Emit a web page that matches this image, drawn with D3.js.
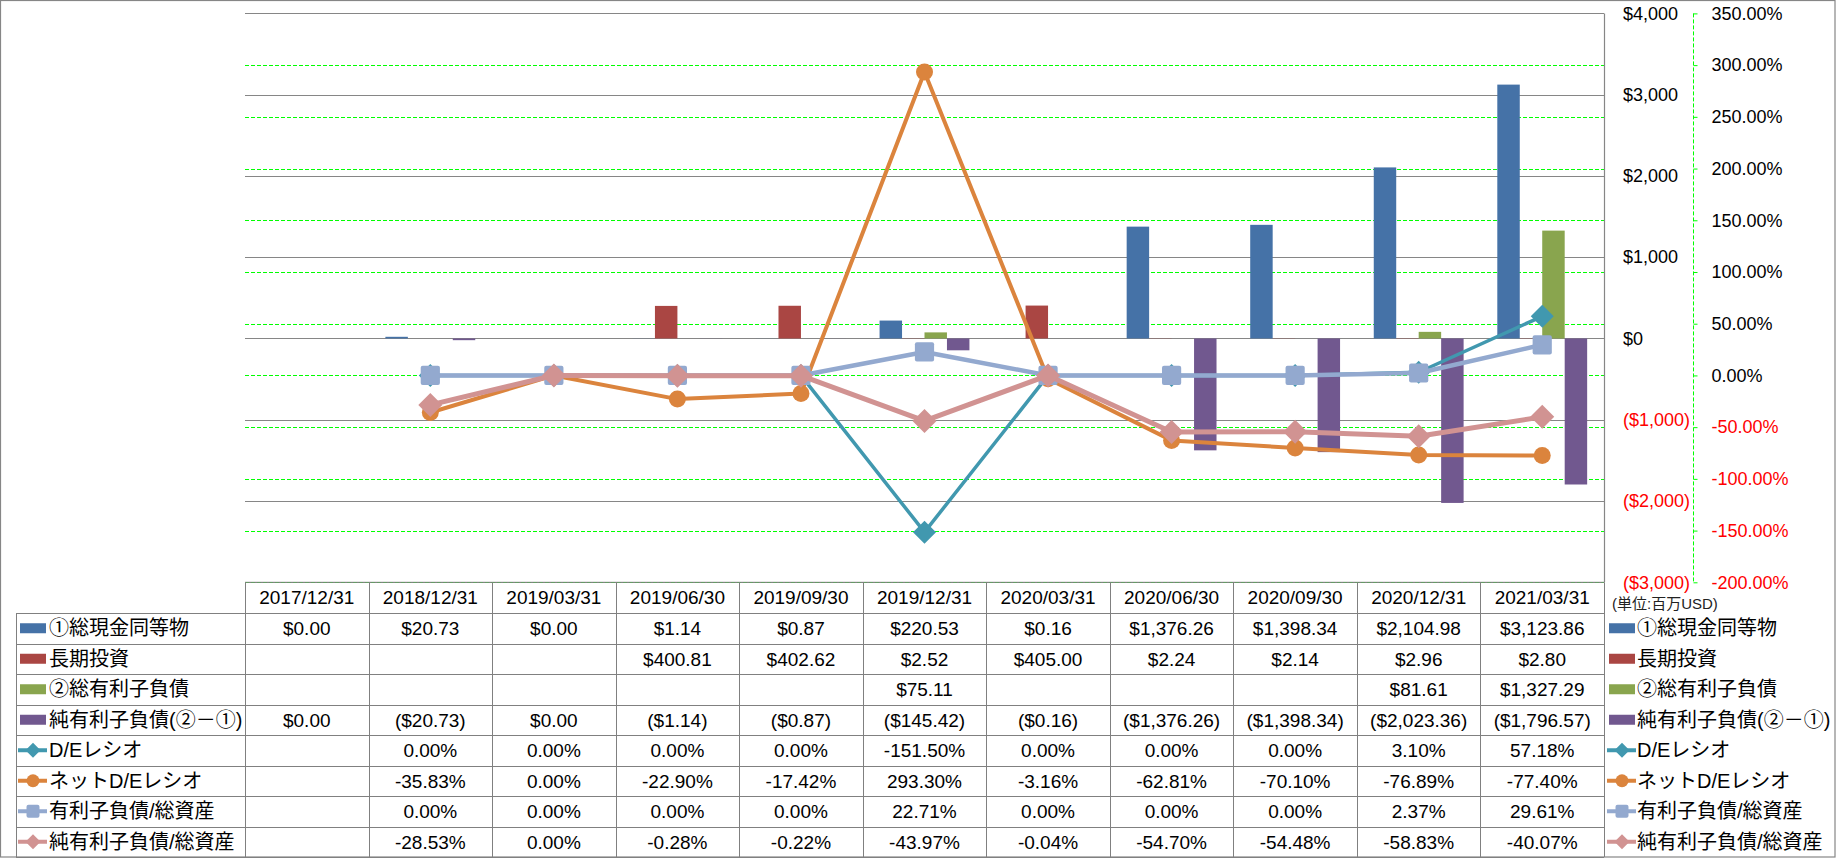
<!DOCTYPE html>
<html><head><meta charset="utf-8">
<script src="https://cdn.jsdelivr.net/npm/d3@7/dist/d3.min.js"></script>
<style>
body{margin:0;background:#fff}
text{font-family:"Liberation Sans","Noto Sans CJK JP",sans-serif}
</style>
</head><body>
<svg id="c" width="1836" height="858"></svg>
<script>
// ---------- data ----------
const categories = ["2017/12/31","2018/12/31","2019/03/31","2019/06/30","2019/09/30","2019/12/31","2020/03/31","2020/06/30","2020/09/30","2020/12/31","2021/03/31"];
const cash        = [0, 20.73, 0, 1.14, 0.87, 220.53, 0.16, 1376.26, 1398.34, 2104.98, 3123.86];
const ltInvest    = [null, null, null, 400.81, 402.62, 2.52, 405.00, 2.24, 2.14, 2.96, 2.80];
const totalDebt   = [null, null, null, null, null, 75.11, null, null, null, 81.61, 1327.29];
const netDebt     = [0, -20.73, 0, -1.14, -0.87, -145.42, -0.16, -1376.26, -1398.34, -2023.36, -1796.57];
const deRatio     = [null, 0, 0, 0, 0, -151.50, 0, 0, 0, 3.10, 57.18];
const netDeRatio  = [null, -35.83, 0, -22.90, -17.42, 293.30, -3.16, -62.81, -70.10, -76.89, -77.40];
const debtAssets  = [null, 0, 0, 0, 0, 22.71, 0, 0, 0, 2.37, 29.61];
const netDebtAssets = [null, -28.53, 0, -0.28, -0.22, -43.97, -0.04, -54.70, -54.48, -58.83, -40.07];

const seriesNames = ["①総現金同等物","長期投資","②総有利子負債","純有利子負債(②－①)","D/Eレシオ","ネットD/Eレシオ","有利子負債/総資産","純有利子負債/総資産"];
const leftTicks  = [-3000,-2000,-1000,0,1000,2000,3000,4000];
const rightTicks = [-200,-150,-100,-50,0,50,100,150,200,250,300,350];
const unitLabel = "(単位:百万USD)";

// ---------- styles ----------
const barSeries = [
  {name: seriesNames[0], values: cash,      color:"#4572A7"},
  {name: seriesNames[1], values: ltInvest,  color:"#AA4643"},
  {name: seriesNames[2], values: totalDebt, color:"#89A54E"},
  {name: seriesNames[3], values: netDebt,   color:"#71588F"}
];
const lineSeries = [
  {name: seriesNames[4], values: deRatio,       color:"#4198AF", marker:"diamond", w:3.5, ms:11.5},
  {name: seriesNames[5], values: netDeRatio,    color:"#DB843D", marker:"circle",  w:4,   ms:8.5},
  {name: seriesNames[6], values: debtAssets,    color:"#93A9CF", marker:"square",  w:4.5, ms:9.6},
  {name: seriesNames[7], values: netDebtAssets, color:"#D19392", marker:"diamond", w:5,   ms:12}
];

const svg = d3.select("#c");
const W = 1836, H = 858;
const plotL = 245, plotR = 1604, plotT = 13.4, plotB = 582.3;
const gridColor = "#868686";

const x = d3.scaleBand().domain(categories).range([plotL, plotR]).padding(0);
const xs = d3.scaleBand().domain(barSeries.map(s=>s.name)).range([0, x.bandwidth()]).paddingInner(0).paddingOuter(0.75);
const yL = d3.scaleLinear().domain([-3000, 4000]).range([plotB, plotT]);
const yR = d3.scaleLinear().domain([-200, 350]).range([plotB, plotT]);

// outer border
svg.append("rect").attr("x",0.5).attr("y",0.5).attr("width",W-1.5).attr("height",H-1.5)
  .attr("fill","none").attr("stroke",gridColor).attr("stroke-width",1.2);

// primary gridlines
svg.append("g").selectAll("line").data(leftTicks).join("line")
  .attr("x1",plotL).attr("x2",plotR)
  .attr("y1",d=>Math.round(yL(d))+0.5).attr("y2",d=>Math.round(yL(d))+0.5)
  .attr("stroke",gridColor).attr("stroke-width",1.2);

// secondary gridlines (green dashed)
svg.append("g").selectAll("line").data(rightTicks.filter(d=>d!==350)).join("line")
  .attr("x1",plotL).attr("x2",plotR)
  .attr("y1",d=>Math.round(yR(d))+0.5).attr("y2",d=>Math.round(yR(d))+0.5)
  .attr("stroke","#00FF00").attr("stroke-width",1).attr("stroke-dasharray","4,2");

// plot right border (primary axis line)
svg.append("line").attr("x1",plotR+0.5).attr("x2",plotR+0.5).attr("y1",plotT).attr("y2",plotB)
  .attr("stroke",gridColor).attr("stroke-width",1.2);

// bars
barSeries.forEach(s=>{
  svg.append("g").selectAll("rect").data(s.values.map((v,i)=>({v,c:categories[i]})).filter(d=>d.v!=null))
    .join("rect")
    .attr("x",d=>x(d.c)+xs(s.name))
    .attr("width",xs.bandwidth())
    .attr("y",d=>Math.min(yL(d.v),yL(0)))
    .attr("height",d=>Math.abs(yL(d.v)-yL(0)))
    .attr("fill",s.color);
});

// marker helper
function markerPath(type, s){
  if(type==="diamond") return `M0,${-s}L${s},0L0,${s}L${-s},0Z`;
  if(type==="square") return `M${-s},${-s+2}Q${-s},${-s} ${-s+2},${-s}L${s-2},${-s}Q${s},${-s} ${s},${-s+2}L${s},${s-2}Q${s},${s} ${s-2},${s}L${-s+2},${s}Q${-s},${s} ${-s},${s-2}Z`;
  return d3.arc()({innerRadius:0,outerRadius:s,startAngle:0,endAngle:2*Math.PI});
}

// lines
const cx = c => x(c) + x.bandwidth()/2;
lineSeries.forEach(s=>{
  const pts = s.values.map((v,i)=>({v,c:categories[i]}));
  const line = d3.line().defined(d=>d.v!=null).x(d=>cx(d.c)).y(d=>yR(d.v));
  const g = svg.append("g");
  g.append("path").attr("d",line(pts)).attr("fill","none").attr("stroke",s.color)
    .attr("stroke-width",s.w).attr("stroke-linejoin","round");
  g.selectAll("path.m").data(pts.filter(d=>d.v!=null)).join("path").attr("class","m")
    .attr("transform",d=>`translate(${cx(d.c)},${yR(d.v)})`)
    .attr("d",markerPath(s.marker,s.ms)).attr("fill",s.color);
});

// primary axis (labels on right side)
const fmtMoney0 = v => v<0 ? "($"+d3.format(",")(-v)+")" : "$"+d3.format(",")(v);
const axL = svg.append("g").attr("transform",`translate(1623,0)`)
  .call(d3.axisRight(yL).tickValues(leftTicks).tickSize(0).tickPadding(0).tickFormat(fmtMoney0));
axL.select(".domain").remove();
axL.selectAll("text").attr("font-size",18).attr("text-anchor","start")
  .attr("font-family",'"Liberation Sans",sans-serif')
  .attr("fill",d=>d<0?"#FF0000":"#000");

// secondary axis
const axR = svg.append("g").attr("transform",`translate(1693.5,0)`)
  .call(d3.axisRight(yR).tickValues(rightTicks).tickSize(4).tickPadding(14).tickFormat(d=>d.toFixed(2)+"%"));
axR.select(".domain").attr("stroke","#00FF00").attr("stroke-dasharray","4,2").attr("d",`M0,${plotT}V${plotB}`);
axR.selectAll(".tick line").attr("stroke","#00FF00");
axR.selectAll("text").attr("font-size",18).attr("text-anchor","start")
  .attr("font-family",'"Liberation Sans",sans-serif')
  .attr("fill",d=>d<0?"#FF0000":"#000");

// ---------- data table ----------
const tblTop = 582.3, hdrB = 613, tblB = 857;
const rowH = (tblB - hdrB) / 8;
const tblColor = "#808080";
const tg = svg.append("g");
const rowsData = [cash, ltInvest, totalDebt, netDebt, deRatio, netDeRatio, debtAssets, netDebtAssets];
const fmtMoney = v => v==null ? "" : (v<0 ? "($"+d3.format(",.2f")(-v)+")" : "$"+d3.format(",.2f")(v));
const fmtPct = v => v==null ? "" : v.toFixed(2)+"%";

// header row border
tg.append("line").attr("x1",plotL).attr("x2",plotR).attr("y1",tblTop).attr("y2",tblTop).attr("stroke",tblColor);
// horizontal lines
d3.range(9).forEach(i=>{
  const y = Math.round(hdrB + i*rowH)+0.5;
  tg.append("line").attr("x1",16).attr("x2",plotR).attr("y1",y).attr("y2",y).attr("stroke",tblColor);
});
// vertical lines
tg.append("line").attr("x1",16.5).attr("x2",16.5).attr("y1",hdrB).attr("y2",tblB).attr("stroke",tblColor);
categories.forEach(c=>{
  tg.append("line").attr("x1",Math.round(x(c))+0.5).attr("x2",Math.round(x(c))+0.5).attr("y1",tblTop).attr("y2",tblB).attr("stroke",tblColor);
});
tg.append("line").attr("x1",plotR+0.5).attr("x2",plotR+0.5).attr("y1",tblTop).attr("y2",tblB).attr("stroke",tblColor);

// header text
tg.selectAll("text.h").data(categories).join("text").attr("class","h")
  .attr("x",d=>cx(d)).attr("y",(tblTop+hdrB)/2).attr("dy","0.36em")
  .attr("text-anchor","middle").attr("font-size",19).text(d=>d);

// cell values
rowsData.forEach((vals,r)=>{
  const fmt = r<4 ? fmtMoney : fmtPct;
  const yc = hdrB + (r+0.5)*rowH;
  tg.append("g").selectAll("text").data(vals.map((v,i)=>({v,c:categories[i]}))).join("text")
    .attr("x",d=>cx(d.c)).attr("y",yc).attr("dy","0.36em").attr("text-anchor","middle")
    .attr("font-size",19).text(d=>fmt(d.v));
});

// legend keys (left in table + right side)
const allSeries = [...barSeries.map(s=>({...s,type:"bar"})), ...lineSeries.map(s=>({...s,type:"line"}))];
function drawKey(g, s, x0, yc){
  if(s.type==="bar"){
    g.append("rect").attr("x",x0).attr("y",yc-5).attr("width",26).attr("height",10).attr("fill",s.color);
  } else {
    g.append("line").attr("x1",x0-2).attr("x2",x0+27).attr("y1",yc).attr("y2",yc)
      .attr("stroke",s.color).attr("stroke-width",4);
    g.append("path").attr("transform",`translate(${x0+13},${yc})`)
      .attr("d",markerPath(s.marker, s.marker==="circle"?6.5:(s.marker==="square"?6.5:7.5))).attr("fill",s.color);
  }
}
allSeries.forEach((s,r)=>{
  const yc = hdrB + (r+0.5)*rowH;
  drawKey(tg, s, 20, yc);
  tg.append("text").attr("x",49).attr("y",yc).attr("dy","0.36em").attr("font-size",20).text(s.name);
  drawKey(tg, s, 1609, yc);
  tg.append("text").attr("x",1637).attr("y",yc).attr("dy","0.36em").attr("font-size",20).text(s.name);
});

// unit label
svg.append("text").attr("x",1612).attr("y",604).attr("dy","0.36em").attr("font-size",15)
  .attr("fill","#222").text(unitLabel);
</script>
</body></html>
